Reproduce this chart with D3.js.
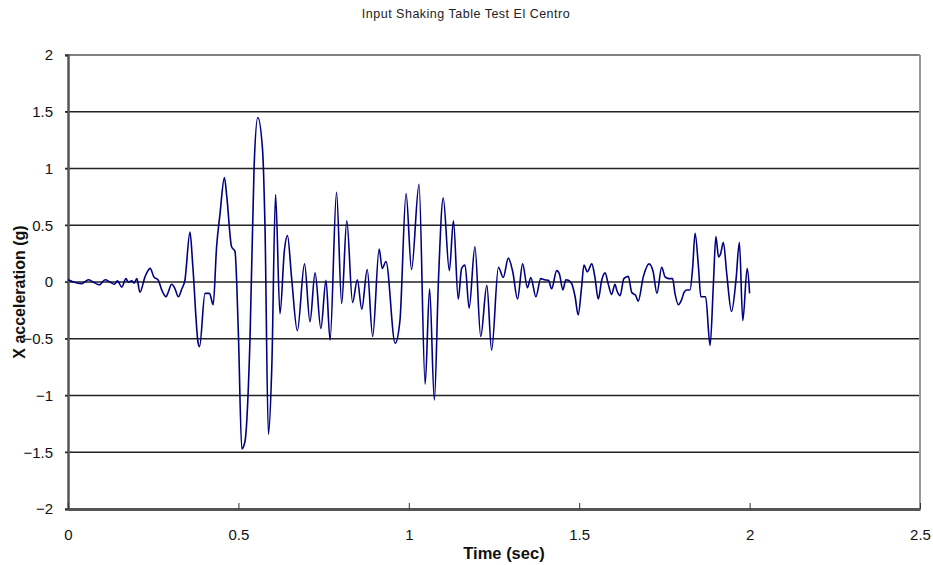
<!DOCTYPE html>
<html>
<head>
<meta charset="utf-8">
<script src="https://cdn.jsdelivr.net/npm/d3@7/dist/d3.min.js"></script>
<style>
  html, body { margin: 0; padding: 0; background: #fff; }
  svg { display: block; }
  text { font-family: "Liberation Sans", Arial, sans-serif; }
</style>
</head>
<body>
<svg id="chart" width="933" height="565"></svg>
<script>
// Shaking table input record, El Centro: time (s) and X acceleration (g)
const timeSec = [
  0.000, 0.016, 0.040, 0.060, 0.074, 0.092, 0.109, 0.123, 0.136, 0.145,
  0.158, 0.170, 0.177, 0.187, 0.194, 0.202, 0.211, 0.226, 0.241, 0.252,
  0.265, 0.275, 0.288, 0.294, 0.304, 0.314, 0.324, 0.334, 0.343, 0.358,
  0.366, 0.382, 0.386, 0.402, 0.415, 0.426, 0.436, 0.446, 0.459, 0.466,
  0.480, 0.490, 0.500, 0.510, 0.519, 0.534, 0.546, 0.557, 0.571, 0.578,
  0.588, 0.598, 0.609, 0.622, 0.635, 0.644, 0.656, 0.673, 0.694, 0.710,
  0.725, 0.742, 0.757, 0.769, 0.788, 0.803, 0.818, 0.835, 0.849, 0.862,
  0.878, 0.894, 0.913, 0.922, 0.933, 0.960, 0.974, 0.992, 1.008, 1.030,
  1.048, 1.061, 1.075, 1.087, 1.101, 1.119, 1.131, 1.145, 1.155, 1.165,
  1.177, 1.194, 1.211, 1.229, 1.243, 1.263, 1.277, 1.292, 1.305, 1.319,
  1.334, 1.348, 1.358, 1.373, 1.387, 1.398, 1.410, 1.419, 1.434, 1.442,
  1.452, 1.461, 1.468, 1.478, 1.488, 1.497, 1.507, 1.514, 1.524, 1.537,
  1.546, 1.556, 1.566, 1.576, 1.585, 1.595, 1.605, 1.610, 1.620, 1.631,
  1.644, 1.654, 1.666, 1.673, 1.688, 1.705, 1.717, 1.728, 1.742, 1.752,
  1.763, 1.774, 1.781, 1.791, 1.800, 1.808, 1.815, 1.825, 1.833, 1.840,
  1.850, 1.857, 1.864, 1.871, 1.884, 1.894, 1.901, 1.909, 1.915, 1.923,
  1.933, 1.947, 1.960, 1.970, 1.980, 1.993, 2.000
];
const accelG = [
  0.02, 0.00, -0.015, 0.02, 0.00, -0.025, 0.02, 0.00, -0.02, 0.01,
  -0.045, 0.03, 0.00, 0.01, -0.01, 0.03, -0.09, 0.045, 0.12, 0.045,
  0.016, -0.07, -0.13, -0.09, -0.02, -0.06, -0.13, -0.06, 0.015, 0.44,
  0.15, -0.54, -0.57, -0.10, -0.10, -0.20, 0.31, 0.60, 0.92, 0.75,
  0.31, 0.27, -0.46, -1.47, -1.41, -0.51, 1.01, 1.45, 1.16, 0.49,
  -1.34, -0.75, 0.77, -0.28, 0.28, 0.41, 0.04, -0.43, 0.16, -0.35,
  0.08, -0.41, 0.015, -0.51, 0.79, -0.19, 0.54, -0.18, 0.02, -0.24,
  0.11, -0.48, 0.29, 0.12, 0.18, -0.54, -0.34, 0.78, 0.11, 0.86,
  -0.90, -0.06, -1.04, 0.015, 0.74, 0.10, 0.54, -0.15, 0.12, 0.15,
  -0.23, 0.31, -0.48, -0.03, -0.60, 0.13, 0.04, 0.21, 0.09, -0.15,
  0.16, -0.05, 0.04, -0.13, 0.03, 0.02, 0.015, -0.06, 0.10, 0.07,
  -0.07, 0.02, 0.015, -0.015, -0.13, -0.29, -0.045, 0.15, 0.09, 0.16,
  0.045, -0.15, 0.015, 0.08, -0.015, -0.11, -0.02, -0.07, -0.12, 0.03,
  0.05, -0.09, -0.12, -0.17, 0.045, 0.16, 0.09, -0.10, 0.13, 0.045,
  0.03, 0.03, -0.10, -0.20, -0.16, -0.09, -0.07, -0.07, 0.13, 0.43,
  0.13, -0.13, -0.13, -0.13, -0.56, 0.00, 0.40, 0.22, 0.25, 0.35,
  0.07, -0.26, 0.015, 0.35, -0.34, 0.12, -0.10
];

const xTicks = [0, 0.5, 1, 1.5, 2, 2.5];
const yTicks = [-2, -1.5, -1, -0.5, 0, 0.5, 1, 1.5, 2];

const chartTitle = "Input Shaking Table Test El Centro";
const xTitle = "Time (sec)";
const yTitle = "X  acceleration (g)";

const svg = d3.select("#chart");
const plotLeft = 68, plotRight = 920, plotTop = 55, plotBottom = 509;

const x = d3.scaleLinear().domain([0, 2.5]).range([plotLeft, plotRight]);
const y = d3.scaleLinear().domain([-2, 2]).range([plotBottom, plotTop]);

// horizontal gridlines
svg.append("g")
  .selectAll("line")
  .data(yTicks)
  .join("line")
  .attr("x1", plotLeft - 3)
  .attr("x2", plotRight)
  .attr("y1", d => y(d))
  .attr("y2", d => y(d))
  .attr("stroke", "#222")
  .attr("stroke-width", 1.3);

// plot frame: top and right edges
svg.append("line")
  .attr("x1", plotLeft).attr("x2", plotRight).attr("y1", plotTop).attr("y2", plotTop)
  .attr("stroke", "#808080").attr("stroke-width", 2);
svg.append("line")
  .attr("x1", plotRight).attr("x2", plotRight).attr("y1", plotTop).attr("y2", plotBottom)
  .attr("stroke", "#9a9a9a").attr("stroke-width", 2);

// y axis
const yAxis = svg.append("g")
  .attr("transform", `translate(${plotLeft},0)`)
  .call(d3.axisLeft(y).tickValues(yTicks).tickSize(3).tickPadding(12)
        .tickFormat(d3.format("")));
yAxis.select(".domain").attr("stroke", "#555").attr("stroke-width", 2.5);
yAxis.selectAll(".tick line").attr("stroke", "#333");
yAxis.selectAll(".tick text")
  .attr("font-size", 15).attr("fill", "#111")
  .attr("font-family", "'Liberation Sans', Arial, sans-serif");

// x axis
const xAxis = svg.append("g")
  .attr("transform", `translate(0,${plotBottom})`)
  .call(d3.axisBottom(x).tickValues(xTicks).tickSize(0).tickPadding(20)
        .tickFormat(d3.format("")));
xAxis.select(".domain").attr("stroke", "#555").attr("stroke-width", 3);
xAxis.selectAll(".tick text")
  .attr("font-size", 15).attr("fill", "#111")
  .attr("font-family", "'Liberation Sans', Arial, sans-serif");
// short inward tick marks on the time axis
xAxis.selectAll(".tick").append("line")
  .attr("y1", 0).attr("y2", -6)
  .attr("stroke", "#333").attr("stroke-width", 1);

// acceleration trace
const series = timeSec.map((t, i) => ({ t, a: accelG[i] }));
const line = d3.line()
  .x(d => x(d.t))
  .y(d => y(d.a))
  .curve(d3.curveMonotoneX);
svg.append("path")
  .datum(series)
  .attr("d", line)
  .attr("fill", "none")
  .attr("stroke", "#000080")
  .attr("stroke-width", 1.6)
  .attr("stroke-linejoin", "round");

// titles
svg.append("text")
  .attr("x", 466).attr("y", 18)
  .attr("text-anchor", "middle")
  .attr("font-size", 12.5).attr("letter-spacing", 0.5).attr("fill", "#222")
  .text(chartTitle);

svg.append("text")
  .attr("x", 504).attr("y", 559)
  .attr("text-anchor", "middle")
  .attr("font-size", 16.5).attr("font-weight", "bold").attr("fill", "#111")
  .text(xTitle);

svg.append("text")
  .attr("transform", "translate(25,292) rotate(-90)")
  .attr("text-anchor", "middle")
  .attr("font-size", 16).attr("font-weight", "bold").attr("fill", "#111")
  .text(yTitle);
</script>
</body>
</html>
